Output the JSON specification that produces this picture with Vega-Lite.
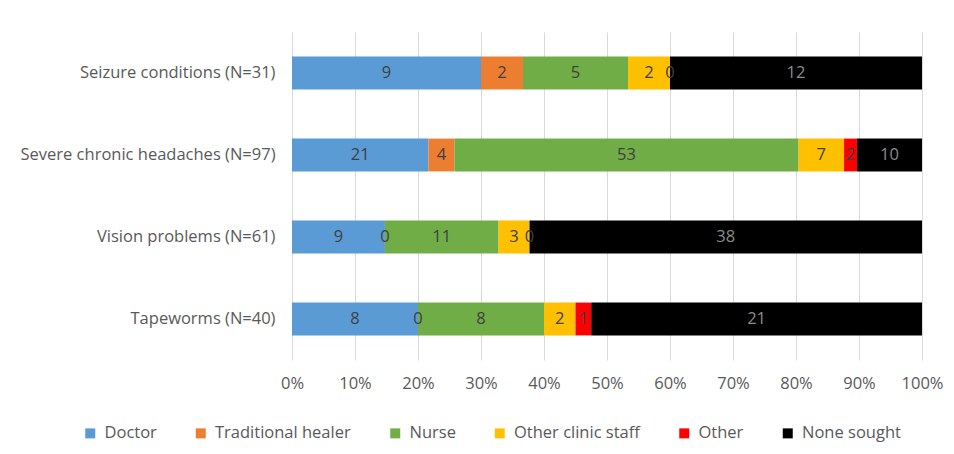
{
  "$schema": "https://vega.github.io/schema/vega-lite/v6.json",
  "width": 630,
  "height": 328,
  "autosize": {"type": "none"},
  "padding": {"left": 292, "top": 32, "right": 32, "bottom": 94},
  "background": "white",
  "config": {"view": {"stroke": null}, "font": "Open Sans"},
  "data": {"values": [
    {"condition": "Seizure conditions (N=31)", "series": "Doctor", "k": 1, "count": 9},
    {"condition": "Seizure conditions (N=31)", "series": "Traditional healer", "k": 2, "count": 2},
    {"condition": "Seizure conditions (N=31)", "series": "Nurse", "k": 3, "count": 5},
    {"condition": "Seizure conditions (N=31)", "series": "Other clinic staff", "k": 4, "count": 2},
    {"condition": "Seizure conditions (N=31)", "series": "Other", "k": 5, "count": 0},
    {"condition": "Seizure conditions (N=31)", "series": "None sought", "k": 6, "count": 12},
    {"condition": "Severe chronic headaches (N=97)", "series": "Doctor", "k": 1, "count": 21},
    {"condition": "Severe chronic headaches (N=97)", "series": "Traditional healer", "k": 2, "count": 4},
    {"condition": "Severe chronic headaches (N=97)", "series": "Nurse", "k": 3, "count": 53},
    {"condition": "Severe chronic headaches (N=97)", "series": "Other clinic staff", "k": 4, "count": 7},
    {"condition": "Severe chronic headaches (N=97)", "series": "Other", "k": 5, "count": 2},
    {"condition": "Severe chronic headaches (N=97)", "series": "None sought", "k": 6, "count": 10},
    {"condition": "Vision problems (N=61)", "series": "Doctor", "k": 1, "count": 9},
    {"condition": "Vision problems (N=61)", "series": "Traditional healer", "k": 2, "count": 0},
    {"condition": "Vision problems (N=61)", "series": "Nurse", "k": 3, "count": 11},
    {"condition": "Vision problems (N=61)", "series": "Other clinic staff", "k": 4, "count": 3},
    {"condition": "Vision problems (N=61)", "series": "Other", "k": 5, "count": 0},
    {"condition": "Vision problems (N=61)", "series": "None sought", "k": 6, "count": 38},
    {"condition": "Tapeworms (N=40)", "series": "Doctor", "k": 1, "count": 8},
    {"condition": "Tapeworms (N=40)", "series": "Traditional healer", "k": 2, "count": 0},
    {"condition": "Tapeworms (N=40)", "series": "Nurse", "k": 3, "count": 8},
    {"condition": "Tapeworms (N=40)", "series": "Other clinic staff", "k": 4, "count": 2},
    {"condition": "Tapeworms (N=40)", "series": "Other", "k": 5, "count": 1},
    {"condition": "Tapeworms (N=40)", "series": "None sought", "k": 6, "count": 21}
  ]},
  "encoding": {
    "y": {
      "field": "condition", "type": "nominal", "title": null,
      "sort": ["Seizure conditions (N=31)", "Severe chronic headaches (N=97)", "Vision problems (N=61)", "Tapeworms (N=40)"],
      "scale": {"paddingInner": 0.6, "paddingOuter": 0.3},
      "axis": {"domain": false, "ticks": false, "labelPadding": 17, "labelFontSize": 16.5, "labelLimit": 320, "labelColor": "#595959", "labelFont": "Open Sans"}
    },
    "x": {
      "field": "count", "type": "quantitative", "stack": "normalize", "title": null,
      "scale": {"domain": [0, 1]},
      "axis": {"format": ".0%", "values": [0, 0.1, 0.2, 0.3, 0.4, 0.5, 0.6, 0.7, 0.8, 0.9, 1], "domain": false, "ticks": false, "labelFlush": false, "labelOverlap": false, "gridColor": "#d9d9d9", "gridWidth": 1, "labelPadding": 15, "labelFontSize": 16.5, "labelColor": "#595959", "labelFont": "Open Sans"}
    },
    "order": {"field": "k", "type": "quantitative"}
  },
  "layer": [
    {
      "mark": {"type": "bar"},
      "encoding": {
        "color": {
          "field": "series", "type": "nominal",
          "scale": {
            "domain": ["Doctor", "Traditional healer", "Nurse", "Other clinic staff", "Other", "None sought"],
            "range": ["#5B9BD5", "#ED7D31", "#70AD47", "#FFC000", "#FF0000", "#000000"]
          },
          "legend": {
            "title": null, "orient": "none", "direction": "horizontal",
            "legendX": -210, "legendY": 393,
            "symbolType": "square", "symbolSize": 100, "symbolStrokeWidth": 0,
            "labelFontSize": 16.5, "labelColor": "#595959", "labelFont": "Open Sans",
            "labelOffset": 6, "columnPadding": 35.5
          }
        }
      }
    },
    {
      "mark": {"type": "text", "fontSize": 16.5, "font": "Open Sans"},
      "encoding": {
        "x": {"field": "count", "type": "quantitative", "stack": "normalize", "bandPosition": 0.5},
        "detail": {"field": "series", "type": "nominal"},
        "text": {"field": "count", "type": "quantitative"},
        "color": {"condition": {"test": "datum.series === 'None sought'", "value": "#8c8c8c"}, "value": "#404040"}
      }
    }
  ]
}
